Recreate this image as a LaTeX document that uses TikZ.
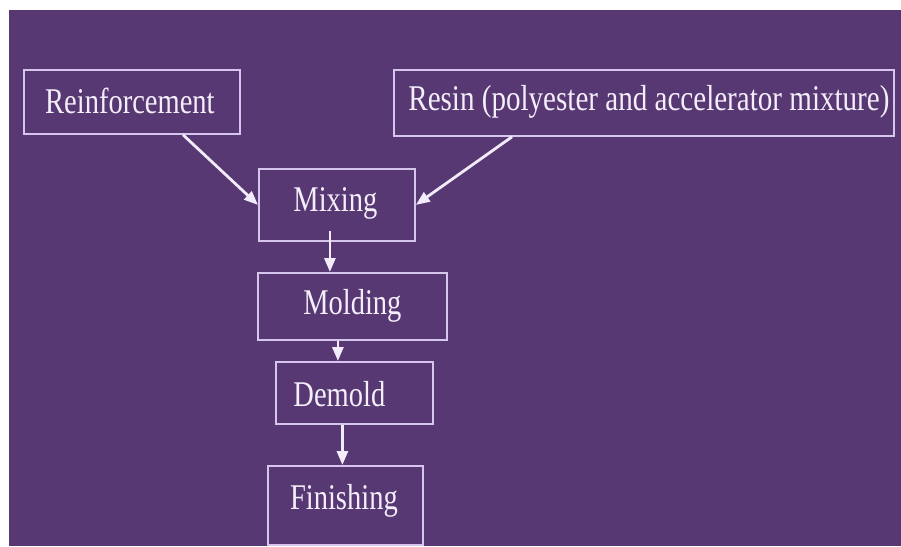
\documentclass[tikz,border=0pt]{standalone}
\usepackage{fontspec}
\setmainfont{Liberation Serif}
\usetikzlibrary{arrows.meta}
\definecolor{bgpurple}{HTML}{573873}
\definecolor{boxline}{HTML}{D6C6EE}
\definecolor{txt}{HTML}{F4EEFA}
\definecolor{arrcol}{HTML}{F2ECFA}
\begin{document}
\begin{tikzpicture}[x=1pt,y=-1pt,
  box/.style={draw=boxline,line width=1.8pt,rectangle,inner sep=0pt,anchor=north west},
  lbl/.style={text=txt,inner sep=0pt,font=\fontsize{28.5}{30}\selectfont},
  arr/.style={draw=arrcol,line width=2.8pt,-{Triangle[length=14pt,width=11pt]}}]
\useasboundingbox (0,0) rectangle (901,546);
\fill[white] (0,0) rectangle (901,546);
\fill[bgpurple] (9,10) rectangle (901,546);
% boxes
\node[box,minimum width=216pt,minimum height=64pt] (rein) at (23,69) {};
\node[box,minimum width=500pt,minimum height=66pt] (resin) at (393,69) {};
\node[box,minimum width=156pt,minimum height=72pt] (mix) at (258,168) {};
\node[box,minimum width=189pt,minimum height=67pt] (mold) at (257,272) {};
\node[box,minimum width=157pt,minimum height=62pt] (dem) at (275,361) {};
\node[box,minimum width=155pt,minimum height=79pt] (fin) at (267,465) {};
% labels
\node[lbl] (reinT) at ([xshift=-2pt,yshift=1pt]rein.center) {\scalebox{1}[1.27]{Reinforcement}};
\node[lbl] (resinT) at ([xshift=5pt,yshift=1pt]resin.center) {\scalebox{1.02}[1.27]{Resin (polyester and accelerator mixture)}};
\node[lbl] (mixT) at ([xshift=-1.5pt,yshift=1pt]mix.center) {\scalebox{1}[1.27]{Mixing}};
\node[lbl] (moldT) at ([xshift=0pt,yshift=1pt]mold.center) {\scalebox{1}[1.27]{Molding}};
\node[lbl] (demT) at ([xshift=-15pt,yshift=-1pt]dem.center) {\scalebox{1}[1.27]{Demold}};
\node[lbl] (finT) at ([xshift=-1.5pt,yshift=5pt]fin.center) {\scalebox{1}[1.27]{Finishing}};
% arrows
\draw[arr] ([xshift=160pt]rein.south west) -- (mix.west);
\draw[arr] ([xshift=119pt]resin.south west) -- (mix.east);
\draw[arr] ([xshift=-7pt,yshift=11pt]mix.south) coordinate (m1) -- (m1 |- mold.north);
\draw[arr] ([xshift=-14.5pt]mold.south) coordinate (m2) -- (m2 |- dem.north);
\draw[arr] ([xshift=-12pt]dem.south) coordinate (m3) -- (m3 |- fin.north);
\end{tikzpicture}
\end{document}
